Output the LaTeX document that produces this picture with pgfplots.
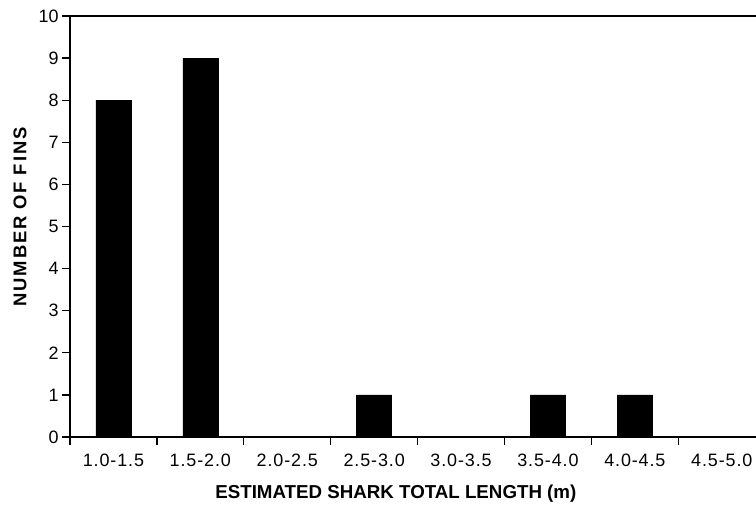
\documentclass[border=0pt]{standalone}
\usepackage{pgfplots}
\pgfplotsset{compat=1.18}
\usepackage{fontspec}
\setmainfont{Liberation Sans}
\newfontfamily\tickfont[LetterSpace=5]{Liberation Sans}
\newfontfamily\ylabfont[LetterSpace=10]{Liberation Sans}
\begin{document}
\begin{tikzpicture}
\begin{axis}[name=ax, scale only axis, width=686bp, height=421bp,
  xmin=-0.5, xmax=7.394, ymin=0, ymax=10,
  axis x line*=box, axis y line*=left,
  axis line style={line width=1.6bp, black},
  ybar, bar width=35bp,
  xtick={0,...,7},
  xticklabels={1.0-1.5,1.5-2.0,2.0-2.5,2.5-3.0,3.0-3.5,3.5-4.0,4.0-4.5,4.5-5.0},
  minor xtick={-0.5,0.5,...,6.5},
  ytick={0,...,10},
  tick align=outside, xtick pos=left, ytick pos=left,
  major tick length=8bp, minor tick length=8bp,
  tick style={line width=1.3bp, black},
  major x tick style={draw=none},
  minor x tick style={draw=black, line width=1.3bp},
  /pgf/number format/assume math mode=true,
  xticklabel style={font=\tickfont\fontsize{18}{20}\selectfont, yshift=-5bp},
  yticklabel style={font=\fontsize{18}{20}\selectfont},
  xlabel={ESTIMATED SHARK TOTAL LENGTH (m)},
  xlabel style={at={(rel axis cs:0.475,0)}, anchor=center, yshift=-57bp, font=\bfseries\fontsize{18.8}{22}\selectfont},
  ylabel={NUMBER OF FINS},
  ylabel style={at={(rel axis cs:0,0.5226)}, anchor=center, yshift=50bp, font=\ylabfont\bfseries\fontsize{18.5}{22}\selectfont},
]
\addplot[fill=black, draw=black] coordinates {(0,8) (1,9) (2,0) (3,1) (4,0) (5,1) (6,1) (7,0)};
\end{axis}
\pgfresetboundingbox
\useasboundingbox ([xshift=-70bp,yshift=-72bp]ax.south west) rectangle ([yshift=16bp]ax.north east);
\end{tikzpicture}
\end{document}
